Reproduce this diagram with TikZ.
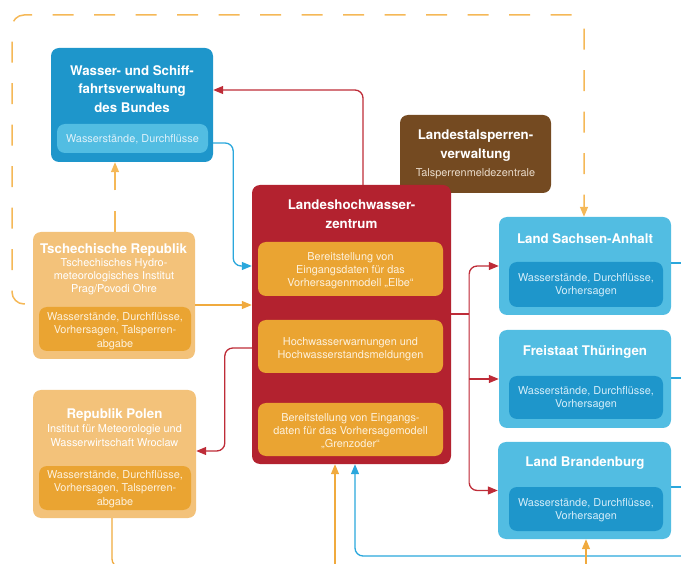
\documentclass[tikz,border=0pt]{standalone}
\usepackage{fontspec}
\setmainfont{TeX Gyre Heros}
\usetikzlibrary{arrows.meta}
\definecolor{wsvblue}{HTML}{1E96CB}
\definecolor{lightblue}{HTML}{52BDE2}
\definecolor{lhwred}{HTML}{B3222F}
\definecolor{inorange}{HTML}{EAA432}
\definecolor{czlight}{HTML}{F3C27A}
\definecolor{brownbox}{HTML}{744A21}
\definecolor{bluetext}{HTML}{DDF1FA}
\definecolor{landtext}{HTML}{D4EDF9}
\definecolor{creamtext}{HTML}{FDF1DC}
\definecolor{brsub}{HTML}{EADCCB}
\definecolor{redline}{HTML}{BE2C38}
\definecolor{pinkline}{HTML}{D46C76}
\definecolor{blueline}{HTML}{2AA7DC}
\definecolor{orline}{HTML}{F0AA3E}
\definecolor{dashcol}{HTML}{F5B857}
\begin{document}
\begin{tikzpicture}[x=1pt,y=-1pt,
  box/.style={rounded corners=8pt, inner sep=0pt, draw=none},
  ttl/.style={font=\fontsize{13.3}{18.5}\selectfont\bfseries, text=white, align=center, inner sep=0pt},
  sm/.style={font=\fontsize{10.9}{13.2}\selectfont, align=center, inner sep=0pt},
  ln/.style={line width=1.3pt, rounded corners=8pt},
  redln/.style={ln, draw=redline},
  pinkln/.style={line width=1.3pt, draw=pinkline},
  blueln/.style={ln, draw=blueline},
  orln/.style={ln, draw=orline},
  dashln/.style={line width=1.5pt, draw=dashcol, dash pattern=on 21pt off 20.5pt},
  arr/.style={-{Triangle[length=10pt,width=8pt]}}
]
\useasboundingbox (0,0) rectangle (681,564);
\clip (0,0) rectangle (681,564);

% Wasser- und Schifffahrtsverwaltung
\node[box, fill=wsvblue, minimum width=162pt, minimum height=114pt] (wsv) at (132,105) {};
\node[box, fill=lightblue, minimum width=151pt, minimum height=29pt] (wsvin) at (132.5,138.5) {};
\node[ttl] (wsvt) at (132,89) {Wasser- und Schiff-\\fahrtsverwaltung\\des Bundes};
\node[sm, text=bluetext] (wsvint) at (132.5,139) {Wasserstände, Durchflüsse};

% Landestalsperrenverwaltung
\node[box, fill=brownbox, minimum width=151pt, minimum height=78pt] (ltv) at (475.5,154) {};
\node[ttl] (ltvt) at (475.5,145.5) {Landestalsperren-\\verwaltung};
\node[sm, text=brsub] (ltvs) at (475.5,174) {Talsperrenmeldezentrale};

% Landeshochwasserzentrum
\node[box, fill=lhwred, minimum width=199pt, minimum height=279pt] (lhw) at (351.5,324.5) {};
\node[ttl] (lhwt) at (351.5,214) {Landeshochwasser-\\zentrum};
\node[box, fill=inorange, minimum width=185pt, minimum height=54pt] (lhwa) at (350.5,269) {};
\node[box, fill=inorange, minimum width=185pt, minimum height=53pt] (lhwb) at (350.5,346.5) {};
\node[box, fill=inorange, minimum width=185pt, minimum height=53pt] (lhwc) at (350.5,429.5) {};
\node[sm, text=creamtext] (lhwat) at (350.5,270.5) {Bereitstellung von\\Eingangsdaten für das\\Vorhersagenmodell „Elbe“};
\node[sm, text=creamtext] (lhwbt) at (350.5,349) {Hochwasserwarnungen und\\Hochwasserstandsmeldungen};
\node[sm, text=creamtext] (lhwct) at (350.5,431) {Bereitstellung von Eingangs-\\daten für das Vorhersagemodell\\„Grenzoder“};

% Tschechische Republik
\node[box, fill=czlight, minimum width=162pt, minimum height=127pt] (tsch) at (114,295.5) {};
\node[ttl] (tscht) at (113.5,250) {Tschechische Republik};
\node[sm, text=white] (tschs) at (114,277) {Tschechisches Hydro-\\meteorologisches Institut\\Prag/Povodi Ohre};
\node[box, fill=inorange, minimum width=152pt, minimum height=44pt] (tschin) at (115,329) {};
\node[sm, text=creamtext] (tschint) at (115,331) {Wasserstände, Durchflüsse,\\Vorhersagen, Talsperren-\\abgabe};

% Republik Polen
\node[box, fill=czlight, minimum width=163pt, minimum height=128pt] (polen) at (114.5,454) {};
\node[ttl] (polent) at (114.5,415) {Republik Polen};
\node[sm, text=white] (polens) at (114.5,435.5) {Institut für Meteorologie und\\Wasserwirtschaft Wroclaw};
\node[box, fill=inorange, minimum width=152pt, minimum height=44pt] (polenin) at (115,488) {};
\node[sm, text=creamtext] (polenint) at (115,489) {Wasserstände, Durchflüsse,\\Vorhersagen, Talsperren-\\abgabe};

% Laender
\node[box, fill=lightblue, minimum width=172pt, minimum height=98pt] (sa) at (585,266) {};
\node[ttl] (sat) at (585,239) {Land Sachsen-Anhalt};
\node[box, fill=wsvblue, minimum width=154pt, minimum height=45pt] (sain) at (586,284.5) {};
\node[sm, text=landtext] (saint) at (586,285.5) {Wasserstände, Durchflüsse,\\Vorhersagen};

\node[box, fill=lightblue, minimum width=172pt, minimum height=98pt] (th) at (585,379) {};
\node[ttl] (tht) at (585,352) {Freistaat Thüringen};
\node[box, fill=wsvblue, minimum width=154pt, minimum height=43pt] (thin) at (586,397.5) {};
\node[sm, text=landtext] (thint) at (586,398.5) {Wasserstände, Durchflüsse,\\Vorhersagen};

\node[box, fill=lightblue, minimum width=173pt, minimum height=97pt] (bb) at (584.5,490.5) {};
\node[ttl] (bbt) at (585,463) {Land Brandenburg};
\node[box, fill=wsvblue, minimum width=154pt, minimum height=44pt] (bbin) at (586,509) {};
\node[sm, text=landtext] (bbint) at (586,510) {Wasserstände, Durchflüsse,\\Vorhersagen};

% dashed connectors
\coordinate (dtl) at (12,15);
\draw[dashln, arr, rounded corners=12pt] ([xshift=-8pt,yshift=-8.5pt]tsch.west) -| (dtl) -| ([xshift=-1pt]sa.north);
\coordinate (dx) at ([xshift=-17pt]wsv.south);
\draw[dashln, arr] (tsch.north -| dx) -- (dx);

% red connectors
\draw[redln, arr] ([xshift=11.5pt]lhw.north) |- ([yshift=15pt]wsv.east);
\draw[redln, arr] ([yshift=-23.5pt]lhw.west) -- ++(-27,0) |- ([yshift=3pt]polen.east);
\coordinate (j) at ([xshift=18pt,yshift=10.5pt]lhw.east);
\draw[redln, arr] (j) |- (sa.west);
\draw[redln, arr] (j) |- (bb.west);
\draw[pinkln] ([yshift=-8pt]j |- sa.west) -- ([yshift=8pt]j |- bb.west);
\draw[redln] ([yshift=10.5pt]lhw.east) -- (j);
\draw[redln, arr] (j |- th.west) -- (th.west);

% blue connectors
\draw[blueln, arr] ([yshift=-38pt]wsv.east) -- ++(20,0) |- ([yshift=58.5pt]lhw.west);
\coordinate (rc) at (692,556);
\draw[blueln] ([yshift=3pt]sa.east) -- ([yshift=3pt]sa.east -| rc);
\draw[blueln] ([yshift=1pt]th.east) -- ([yshift=1pt]th.east -| rc);
\draw[blueln] ([yshift=3.5pt]bb.east) -- ([yshift=3.5pt]bb.east -| rc);
\draw[blueln, arr] (rc) -| ([xshift=3.5pt]lhw.south);

% orange connectors
\coordinate (t1) at ([yshift=-9.5pt]tsch.east);
\draw[orln, arr] (t1) -- (t1 -| lhw.west);
\coordinate (ob1) at ([xshift=-16.5pt]lhw.south |- 0,580);
\draw[orln, arr] (ob1) -- (ob1 |- lhw.south);
\coordinate (ob2) at (586,580);
\draw[orln, arr] (ob2) -- (ob2 |- bb.south);
\coordinate (ob3) at (220,567);
\draw[orln] ([xshift=-2.5pt]polen.south) |- (ob3);
\end{tikzpicture}
\end{document}
